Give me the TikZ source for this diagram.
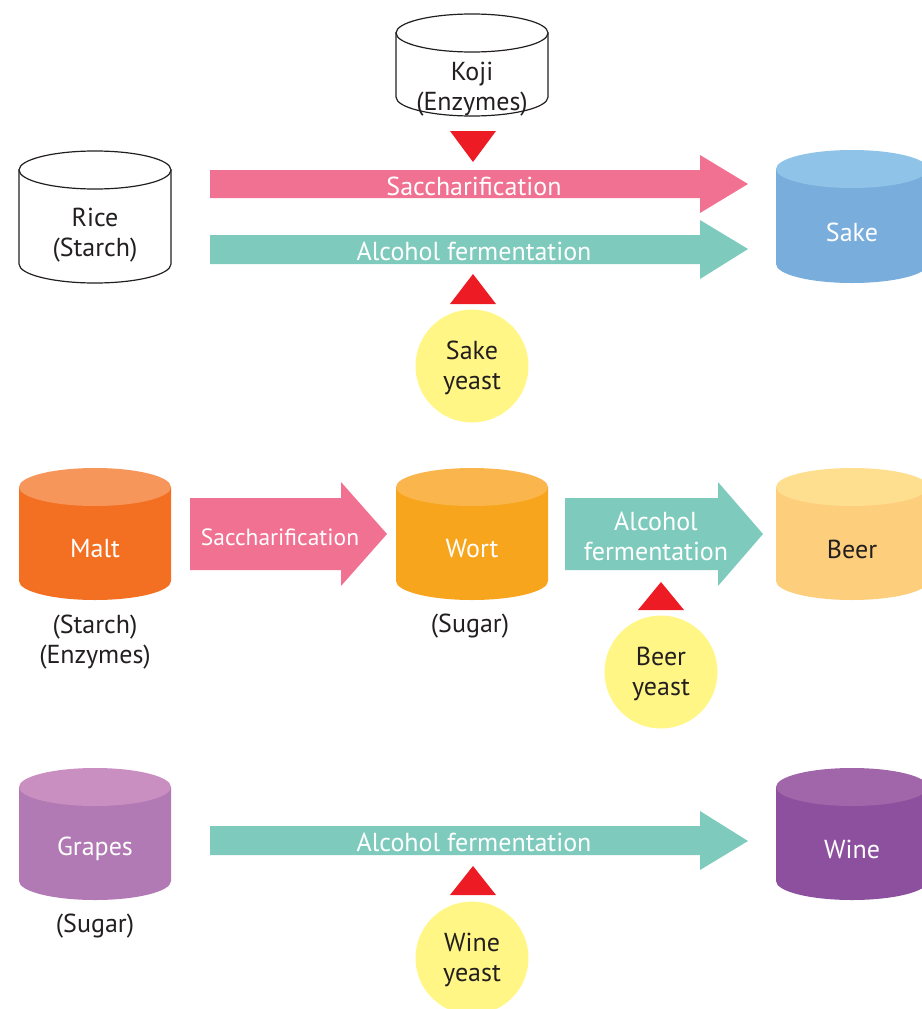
\documentclass[tikz,border=0pt]{standalone}
\usepackage{fontspec}
\setmainfont{PT Sans}
\definecolor{pinkA}{HTML}{F07191}
\definecolor{tealA}{HTML}{7ECBBD}
\definecolor{redT}{HTML}{ED1C24}
\definecolor{yel}{HTML}{FFF685}
\definecolor{ink}{HTML}{231F20}
\definecolor{sakeT}{HTML}{8FC3E8}
\definecolor{sakeB}{HTML}{79ADDC}
\definecolor{maltT}{HTML}{F6965B}
\definecolor{maltB}{HTML}{F37022}
\definecolor{wortT}{HTML}{FAB54D}
\definecolor{wortB}{HTML}{F8A51E}
\definecolor{beerT}{HTML}{FEDF8F}
\definecolor{beerB}{HTML}{FDCE7C}
\definecolor{grapT}{HTML}{C98FC0}
\definecolor{grapB}{HTML}{B27AB4}
\definecolor{wineT}{HTML}{A066A9}
\definecolor{wineB}{HTML}{8C509E}
% cylinder: #1 cx, #2 top y, #3 bottom y, #4 top fill, #5 body fill, #6 line option
\newcommand{\mycyl}[6]{%
  \pgfmathsetmacro{\ta}{#2+19}\pgfmathsetmacro{\tb}{#3-19}%
  \path[fill=#5,#6] (#1-76,\ta) -- (#1-76,\tb) arc[start angle=180,end angle=0,x radius=76,y radius=19] -- (#1+76,\ta) -- cycle;
  \path[fill=#4,#6] (#1,\ta) ellipse[x radius=76,y radius=19];
}
\tikzset{
  lbl/.style={align=center,text=ink,font=\fontsize{26}{30}\selectfont,inner sep=0pt},
  wlbl/.style={lbl,text=white},
  yeast/.style={circle,fill=yel,minimum size=113pt,inner sep=0pt,lbl},
  tri/.style={fill=redT},
  blk/.style={draw=ink,line width=1.2pt},
  nob/.style={draw=none},
}
\begin{document}
\begin{tikzpicture}[x=1pt,y=1pt,yscale=-1]
\useasboundingbox (0,0) rectangle (921,1009);
% ---------- Row 1: Sake ----------
\mycyl{95}{151}{283}{white}{white}{blk}
\node[lbl] (rice) at (95,235) {Rice\\(Starch)};
\mycyl{472}{14}{116}{white}{white}{blk}
\node[lbl] (koji) at (472,89) {Koji\\(Enzymes)};
\fill[tri] (450,131) -- (496,131) -- (473,162) -- cycle;
\fill[pinkA] (210,170) -- (700,170) -- (700,155) -- (748,184) -- (700,213) -- (700,198) -- (210,198) -- cycle;
\node[wlbl] (sacch1) at (474,186) {Saccharification};
\fill[tealA] (210,235) -- (700,235) -- (700,220) -- (748,249) -- (700,279) -- (700,264) -- (210,264) -- cycle;
\node[wlbl] (ferm1) at (474,251) {Alcohol fermentation};
\fill[tri] (450,304) -- (496,304) -- (473,274) -- cycle;
\node[yeast] (sakeyeast) at (472,366) {};
\node[lbl] (sakeyeastt) at (472,368) {Sake\\yeast};
\mycyl{852}{150}{283}{sakeT}{sakeB}{nob}
\node[wlbl] (sake) at (852,232) {Sake};
% ---------- Row 2: Beer ----------
\mycyl{95}{468}{600}{maltT}{maltB}{nob}
\node[wlbl] (malt) at (95,549) {Malt};
\node[lbl] (maltsub) at (95,642) {(Starch)\\(Enzymes)};
\fill[pinkA] (190,498) -- (341,498) -- (341,482) -- (387,534) -- (341,586) -- (341,570) -- (190,570) -- cycle;
\node[wlbl,font=\fontsize{23.5}{27}\selectfont] (sacch2) at (280,537) {Saccharification};
\mycyl{472}{468}{600}{wortT}{wortB}{nob}
\node[wlbl] (wort) at (472,549) {Wort};
\node[lbl] (wortsub) at (470,626) {(Sugar)};
\fill[tealA] (565,498) -- (718,498) -- (718,482) -- (763,534) -- (718,586) -- (718,570) -- (565,570) -- cycle;
\node[wlbl] (ferm2) at (656,536) {Alcohol\\fermentation};
\fill[tri] (638,610) -- (684,610) -- (661,582) -- cycle;
\node[yeast] (beeryeast) at (661,672) {};
\node[lbl] (beeryeastt) at (661,674) {Beer\\yeast};
\mycyl{852}{468}{600}{beerT}{beerB}{nob}
\node[lbl] (beer) at (852,549) {Beer};
% ---------- Row 3: Wine ----------
\mycyl{95}{768}{900}{grapT}{grapB}{nob}
\node[wlbl] (grapes) at (95,849) {Grapes};
\node[lbl] (grapsub) at (95,926) {(Sugar)};
\fill[tealA] (210,826) -- (700,826) -- (700,811) -- (748,841) -- (700,870) -- (700,855) -- (210,855) -- cycle;
\node[wlbl] (ferm3) at (474,842) {Alcohol fermentation};
\fill[tri] (450,895) -- (496,895) -- (473,866) -- cycle;
\node[yeast] (wineyeast) at (472,958) {};
\node[lbl] (wineyeastt) at (472,960) {Wine\\yeast};
\mycyl{852}{768}{900}{wineT}{wineB}{nob}
\node[wlbl] (wine) at (852,849) {Wine};
\end{tikzpicture}
\end{document}
